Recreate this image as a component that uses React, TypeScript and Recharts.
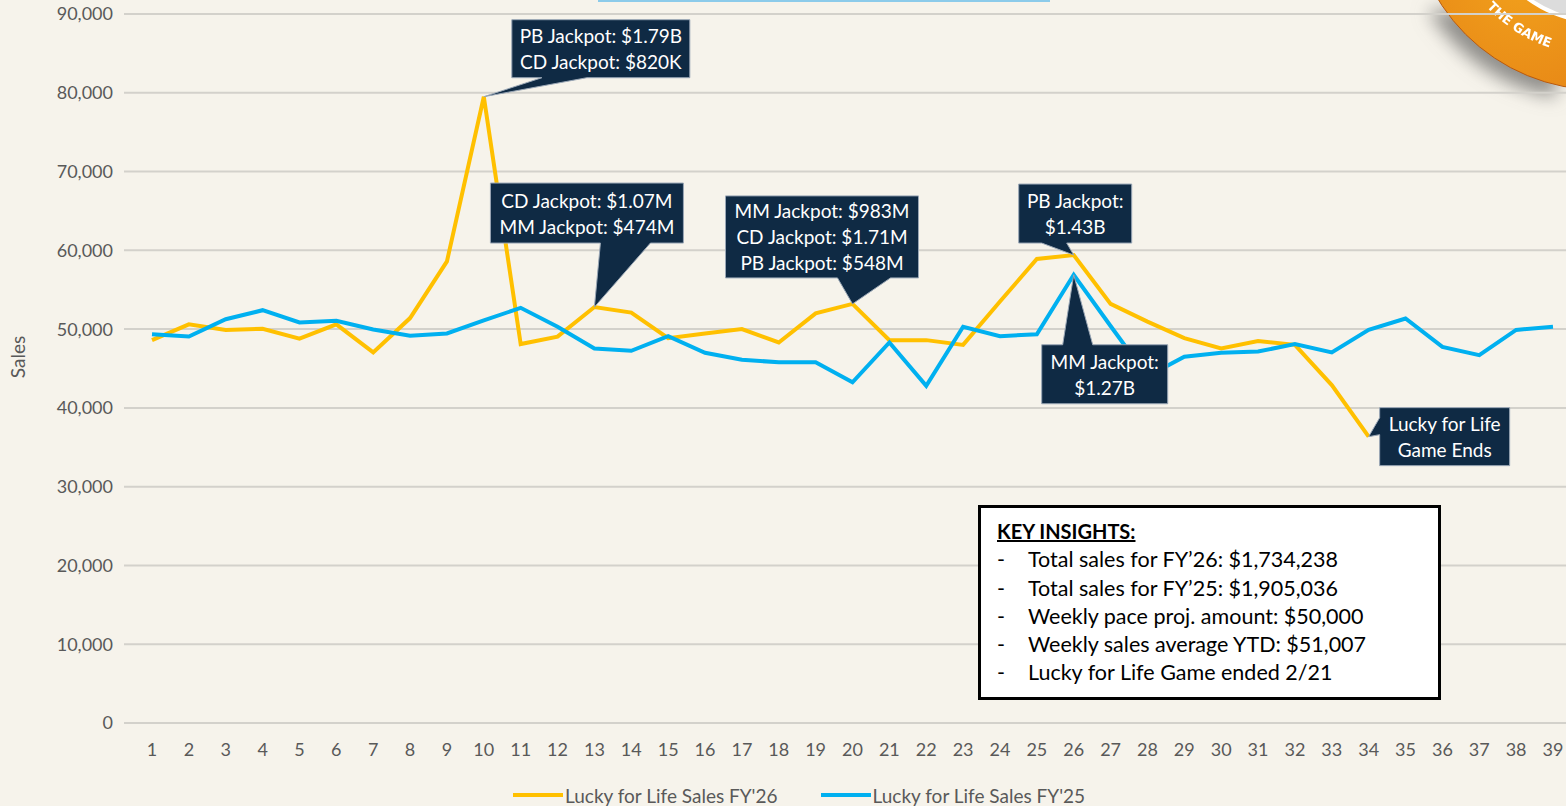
import React from 'react';
import { LineChart, Line, XAxis, YAxis, CartesianGrid, ReferenceDot } from 'recharts';

// weekly sales
const weeks = ['1', '2', '3', '4', '5', '6', '7', '8', '9', '10', '11', '12', '13', '14', '15', '16', '17', '18', '19', '20',
  '21', '22', '23', '24', '25', '26', '27', '28', '29', '30', '31', '32', '33', '34', '35', '36', '37', '38', '39'];

const fy26Sales = [48600, 50600, 49900, 50050, 48800, 50600, 47050, 51400, 58600, 79500,
  48100, 49050, 52800, 52100, 48850, 49450, 50000, 48300, 52000, 53200,
  48600, 48600, 48000, 53500, 58900, 59400, 53200, 50950, 48850, 47550,
  48500, 48000, 42900, 36350];

const fy25Sales = [49350, 49050, 51250, 52400, 50850, 51050, 49950, 49150, 49450, 51100,
  52700, 50300, 47550, 47250, 49100, 47000, 46100, 45800, 45800, 43250,
  48300, 42800, 50300, 49100, 49350, 56900, 50400, 44000, 46500, 47000,
  47150, 48100, 47050, 49900, 51350, 47750, 46700, 49900, 50300];

const yTicks = [0, 10000, 20000, 30000, 40000, 50000, 60000, 70000, 80000, 90000];

const seriesNames = { fy26: "Lucky for Life Sales FY'26", fy25: "Lucky for Life Sales FY'25" };
const seriesColors = { fy26: '#FFC000', fy25: '#00B0F0' };

const insights = [
  'Total sales for FY\u201926: $1,734,238',
  'Total sales for FY\u201925: $1,905,036',
  'Weekly pace proj. amount: $50,000',
  'Weekly sales average YTD: $51,007',
  'Lucky for Life Game ended 2/21',
];

// callouts: dx/dy/w/h place the box relative to the point, base is where the pointer leaves the box
const callouts = [
  { week: '10', series: 'fy26', lines: ['PB Jackpot: $1.79B', 'CD Jackpot: $820K'], dx: 28, dy: -77, w: 178, h: 58, side: 'bottom', base: [30, 75] },
  { week: '13', series: 'fy26', lines: ['CD Jackpot: $1.07M', 'MM Jackpot: $474M'], dx: -104, dy: -124, w: 193, h: 60, side: 'bottom', base: [110, 160] },
  { week: '20', series: 'fy26', lines: ['MM Jackpot: $983M', 'CD Jackpot: $1.71M', 'PB Jackpot: $548M'], dx: -127, dy: -108, w: 193, h: 82, side: 'bottom', base: [112, 165] },
  { week: '26', series: 'fy26', lines: ['PB Jackpot:', '$1.43B'], dx: -55, dy: -71, w: 113, h: 59, side: 'bottom', base: [23, 48] },
  { week: '26', series: 'fy25', lines: ['MM Jackpot:', '$1.27B'], dx: -32, dy: 70, w: 126, h: 59, side: 'top', base: [21, 51] },
  { week: '34', series: 'fy26', lines: ['Lucky for Life', 'Game Ends'], dx: 11, dy: -29, w: 130, h: 58, side: 'left', base: [10, 27] },
];

const data = weeks.map((week, i) => ({
  week,
  fy26: i < fy26Sales.length ? fy26Sales[i] : null,
  fy25: fy25Sales[i],
}));

const FONT = 'Lato, "Open Sans", sans-serif';
const NAVY = '#0f2a44';

const CalloutShape = (props: any) => {
  const { cx, cy, c } = props;
  if (cx == null || cy == null) return null;
  const bx = cx + c.dx;
  const by = cy + c.dy;
  const [b0, b1] = c.base;
  let d = '';
  if (c.side === 'bottom') {
    d = `M${bx},${by} H${bx + c.w} V${by + c.h} H${bx + b1} L${cx},${cy} L${bx + b0},${by + c.h} H${bx} Z`;
  } else if (c.side === 'top') {
    d = `M${bx},${by} H${bx + b0} L${cx},${cy} L${bx + b1},${by} H${bx + c.w} V${by + c.h} H${bx} Z`;
  } else {
    d = `M${bx},${by} H${bx + c.w} V${by + c.h} H${bx} V${by + b1} L${cx},${cy} L${bx},${by + b0} Z`;
  }
  const n = c.lines.length;
  const firstY = by + c.h / 2 - (n - 1) * 13;
  return (
    <g>
      <path d={d} fill={NAVY} stroke="#9aa7b6" strokeWidth={1} />
      {c.lines.map((t: string, i: number) => (
        <text key={i} x={bx + c.w / 2} y={firstY + i * 26} textAnchor="middle" dominantBaseline="central"
          fill="#ffffff" fontSize={19} fontFamily={FONT}>
          {t}
        </text>
      ))}
    </g>
  );
};

const ChartLegend = () => (
  <div style={{ position: 'absolute', left: 513, top: 783, height: 24, display: 'flex', alignItems: 'center', gap: 43, fontFamily: FONT, fontSize: 19, color: '#595959' }}>
    {(['fy26', 'fy25'] as const).map((k) => (
      <div key={k} style={{ display: 'flex', alignItems: 'center' }}>
        <span style={{ display: 'inline-block', width: 50, height: 4, background: seriesColors[k], marginRight: 2 }} />
        <span>{seriesNames[k]}</span>
      </div>
    ))}
  </div>
);

const Logo = () => (
  <svg width={1566} height={806} style={{ position: 'absolute', left: 0, top: 0, filter: 'drop-shadow(-10px 10px 9px rgba(60,60,60,0.55))' }}>
    <defs>
      <radialGradient id="logoOrange" cx="0.3" cy="0.7" r="0.8">
        <stop offset="0%" stopColor="#f2a11c" />
        <stop offset="100%" stopColor="#d9660f" />
      </radialGradient>
      <path id="logoArc" d="M1480.5,0.3 A156,156 0 0 0 1586.4,55.4" />
    </defs>
    <circle cx={1600} cy={-100} r={190} fill="url(#logoOrange)" stroke="#b85a10" strokeWidth={1} />
    <circle cx={1600} cy={-100} r={122} fill="#dcdcdc" stroke="#ffffff" strokeWidth={4} />
    <text fontFamily="'DejaVu Sans', sans-serif" fontWeight={700} fontSize={13} fill="#ffffff">
      <textPath href="#logoArc" startOffset={9}>THE GAME</textPath>
    </text>
  </svg>
);

export default function App() {
  return (
    <div style={{ position: 'absolute', left: 0, top: 0, width: 1566, height: 806, background: '#f6f3eb', overflow: 'hidden' }}>
      <Logo />
      {/* cropped text box at the top of the slide */}
      <div style={{ position: 'absolute', left: 598, top: 0, width: 452, height: 2, background: '#8ccbea' }} />
      <div style={{ position: 'absolute', left: 0, top: 0 }}>
        <LineChart width={1566} height={806} data={data} margin={{ top: 14, right: 0, bottom: 53, left: 0 }}>
          <CartesianGrid vertical={false} stroke="#d3d1cb" strokeWidth={2} />
          <XAxis
            dataKey="week"
            interval={0}
            axisLine={false}
            tickLine={false}
            tickMargin={14}
            height={30}
            padding={{ left: 28, right: 13 }}
            tick={{ fill: '#595959', fontSize: 18, fontFamily: FONT }}
          />
          <YAxis
            width={124}
            domain={[0, 90000]}
            ticks={yTicks}
            interval={0}
            axisLine={false}
            tickLine={false}
            tickMargin={5}
            tickFormatter={(v: number) => v.toLocaleString('en-US')}
            tick={{ fill: '#595959', fontSize: 18, fontFamily: FONT }}
            label={{
              content: () => (
                <text x={17} y={357} transform="rotate(-90 17 357)" textAnchor="middle" dominantBaseline="central"
                  fill="#595959" fontSize={19} fontFamily={FONT}>
                  Sales
                </text>
              ),
            }}
          />
          <Line type="linear" dataKey="fy26" name={seriesNames.fy26} stroke={seriesColors.fy26} strokeWidth={4}
            dot={false} activeDot={false} connectNulls={false} isAnimationActive={false} />
          <Line type="linear" dataKey="fy25" name={seriesNames.fy25} stroke={seriesColors.fy25} strokeWidth={4}
            dot={false} activeDot={false} isAnimationActive={false} />
          {callouts.map((c, i) => {
            const idx = weeks.indexOf(c.week);
            const y = c.series === 'fy26' ? fy26Sales[idx] : fy25Sales[idx];
            return (
              <ReferenceDot key={i} x={c.week} y={y} ifOverflow="visible" zIndex={1000}
                shape={(p: any) => <CalloutShape {...p} c={c} />} />
            );
          })}
        </LineChart>
      </div>
      <ChartLegend />
      <div style={{
        position: 'absolute', left: 978, top: 505, width: 463, height: 195, boxSizing: 'border-box',
        border: '3px solid #000', background: '#ffffff', padding: '9px 0 0 16px',
        fontFamily: FONT, fontSize: 21.5, lineHeight: '28.3px', color: '#000',
      }}>
        <div style={{ fontWeight: 700, fontSize: 20, textDecoration: 'underline' }}>KEY INSIGHTS:</div>
        {insights.map((t, i) => (
          <div key={i} style={{ display: 'flex' }}>
            <span style={{ width: 31 }}>-</span>
            <span>{t}</span>
          </div>
        ))}
      </div>
    </div>
  );
}
